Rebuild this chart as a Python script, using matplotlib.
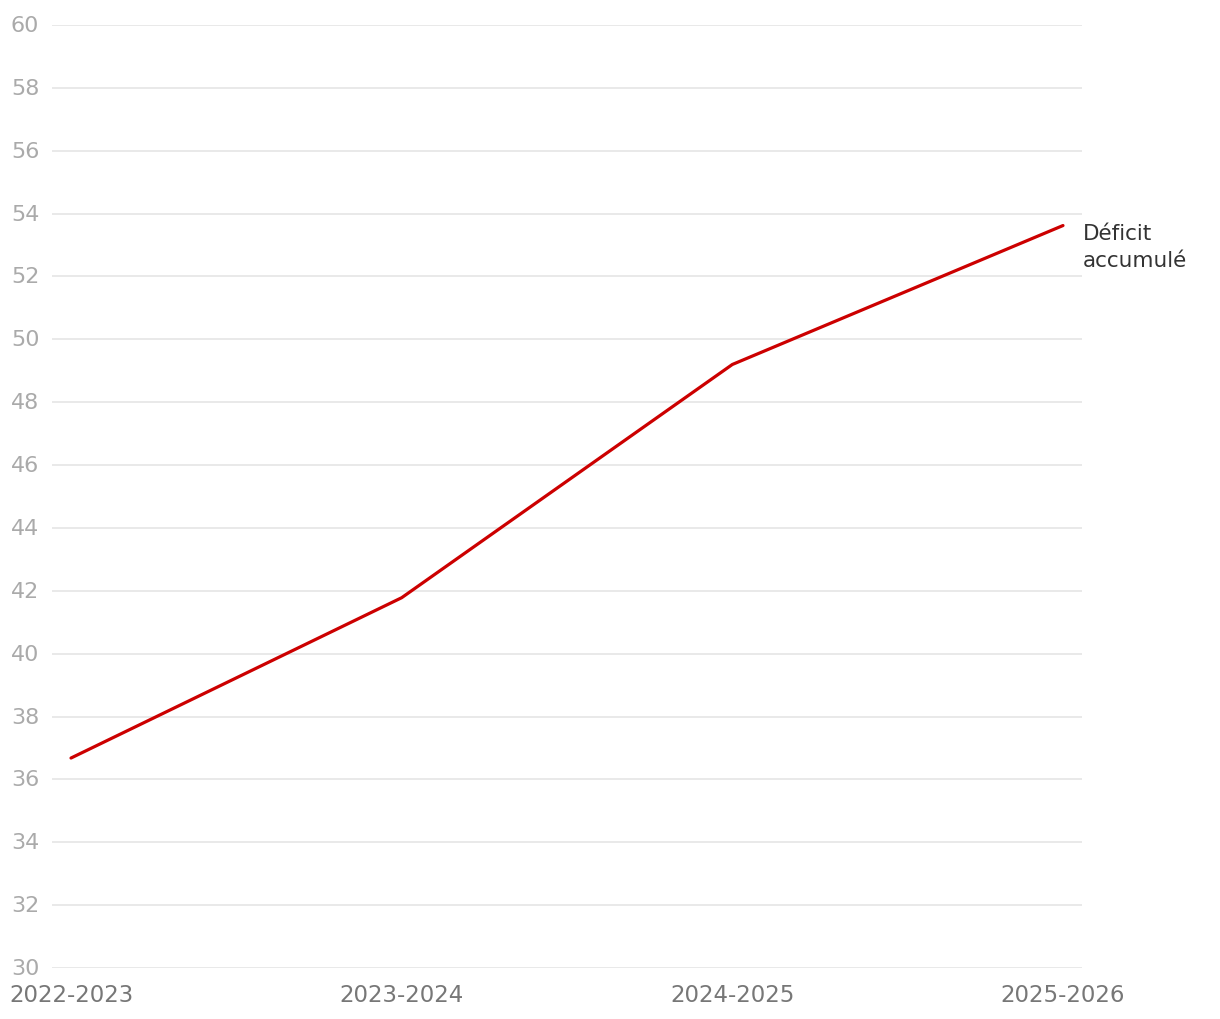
import matplotlib.pyplot as plt
from matplotlib.transforms import blended_transform_factory

plt.rcParams["font.family"] = ["DejaVu Sans"]

seasons = ["2022-2023", "2023-2024", "2024-2025", "2025-2026"]
deficit = [36.68, 41.78, 49.2, 53.62]
y_ticks = list(range(30, 61, 2))

fig = plt.figure(figsize=(12.2, 10.2), dpi=100)
ax = fig.add_axes([52 / 1220, 1 - 969 / 1020, (1082 - 52) / 1220, (969 - 26) / 1020])

x = list(range(len(seasons)))
ax.plot(x, deficit, color="#cc0000", linewidth=2.3, solid_capstyle="round", zorder=3)

ax.set_xlim(-0.0575, 3.0575)
ax.set_ylim(30, 60)
ax.set_yticks(y_ticks)
ax.set_yticklabels([])
ax.grid(axis="y", color="#e3e3e3", linewidth=1.1, zorder=0)
for s in ax.spines.values():
    s.set_visible(False)
ax.tick_params(axis="y", length=0)
ax.tick_params(axis="x", length=0, pad=11, labelsize=16.5, labelcolor="#777777")
ax.set_xticks(x)
ax.set_xticklabels(seasons)

# y labels are left-aligned at the figure edge
trans = blended_transform_factory(fig.transFigure, ax.transData)
for t in y_ticks:
    fig.text(11 / 1220, t, str(t), transform=trans, ha="left", va="center",
             fontsize=16, color="#aaaaaa")

ax.annotate("Déficit\naccumulé", xy=(3, deficit[-1]), xytext=(14, 2),
            textcoords="offset points", ha="left", va="top",
            fontsize=15.5, color="#333333", linespacing=1.45,
            annotation_clip=False)

fig.savefig("out.png", dpi=100)
